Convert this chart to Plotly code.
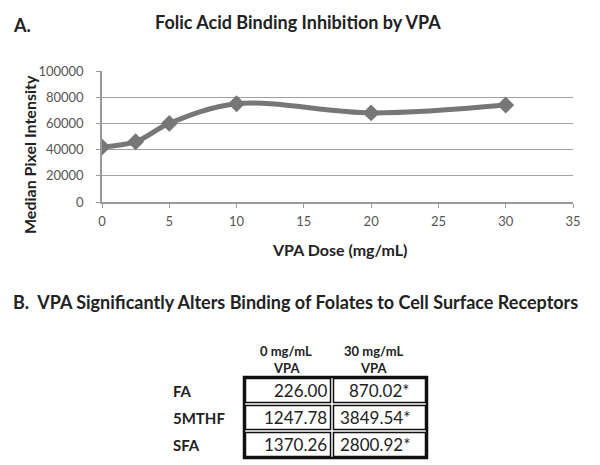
import plotly.graph_objects as go

# ---- Data ----
dose = [0, 2.5, 5, 10, 20, 30]
intensity = [42000, 46000, 60000, 75000, 68000, 74000]

row_labels = ["FA", "5MTHF", "SFA"]
col_headers = [["0 mg/mL", "VPA"], ["30 mg/mL", "VPA"]]
vals_0 = ["226.00", "1247.78", "1370.26"]
vals_30 = ["870.02*", "3849.54*", "2800.92*"]

W, H = 600, 465
def px(x):
    return x / W
def py(y):
    return 1 - y / H

FONT = "Lato"
fig = go.Figure()
fig.add_trace(go.Scatter(
    x=dose, y=intensity, mode="lines+markers",
    line=dict(color="#777777", width=5, shape="spline", smoothing=1.0),
    marker=dict(symbol="diamond", size=13, color="#777777"),
    showlegend=False, hoverinfo="x+y"))

fig.update_layout(
    width=W, height=H, margin=dict(l=0, r=0, t=0, b=0),
    paper_bgcolor="white", plot_bgcolor="white",
    font=dict(family=FONT, color="#333"),
    xaxis=dict(domain=[px(102), px(573)], range=[0, 35], tickvals=[0, 5, 10, 15, 20, 25, 30, 35],
               showgrid=False, zeroline=False, showline=True, linecolor="#999", linewidth=1.5,
               ticks="outside", ticklen=4, tickcolor="#999", ticklabelstandoff=3, automargin=False,
               tickfont=dict(size=13, color="#555"), fixedrange=True),
    yaxis=dict(domain=[py(202), py(71)], range=[0, 100000], tickvals=[0, 20000, 40000, 60000, 80000, 100000],
               showgrid=True, gridcolor="#a0a0a0", gridwidth=1.2, zeroline=False,
               showline=True, linecolor="#999", linewidth=1.5, automargin=False,
               ticks="outside", ticklen=4, tickcolor="#999", tickformat="d", ticklabelstandoff=10,
               tickfont=dict(size=13, color="#555"), fixedrange=True),
)

ann = []
def text(x, y, s, size=14, bold=False, xanchor="center", color="#222", angle=0):
    ann.append(dict(x=px(x), y=py(y), xref="paper", yref="paper", text=(f"<b>{s}</b>" if bold else s),
                    showarrow=False, xanchor=xanchor, yanchor="middle", textangle=angle, borderpad=0,
                    font=dict(family=FONT, size=size, color=color)))

text(12, 25, "A.", 18, True, "left")
text(298, 22, "Folic Acid Binding Inhibition by VPA", 18, True)
text(30, 155, "Median Pixel Intensity", 16, True, angle=-90)
text(340, 249, "VPA Dose (mg/mL)", 16, True)
text(12, 302, "B.&nbsp;&nbsp;VPA Significantly Alters Binding of Folates to Cell Surface Receptors", 18, True, "left")

# Table geometry
col_edges = [244, 332, 427]
row_edges = [377, 404, 431, 458]
val_right = [328, 411]
hdr_centers = [286, 373]
shapes = []
for ci, hdr in enumerate(col_headers):
    text(hdr_centers[ci], 351, hdr[0], 13, True)
    text(hdr_centers[ci], 368, hdr[1], 13, True)
for ri, lab in enumerate(row_labels):
    cy = (row_edges[ri] + row_edges[ri + 1]) / 2
    text(172, cy, lab, 15, True, "left")
    for ci, v in enumerate([vals_0[ri], vals_30[ri]]):
        text(val_right[ci], cy, v, 17, False, "right", "#222")
        shapes.append(dict(type="rect", xref="paper", yref="paper",
                           x0=px(col_edges[ci] + 1.5), x1=px(col_edges[ci + 1] - 1.5),
                           y0=py(row_edges[ri] + 1.5), y1=py(row_edges[ri + 1] - 1.5),
                           line=dict(color="#111", width=1.5)))
shapes.append(dict(type="rect", xref="paper", yref="paper",
                   x0=px(col_edges[0]), x1=px(col_edges[-1]), y0=py(row_edges[0]), y1=py(row_edges[-1]),
                   line=dict(color="#111", width=2.5)))

fig.update_layout(annotations=ann, shapes=shapes)
fig.write_html("out.html", config={"displayModeBar": False},
               post_script="document.body.style.margin='0';document.body.style.overflow='hidden';")
